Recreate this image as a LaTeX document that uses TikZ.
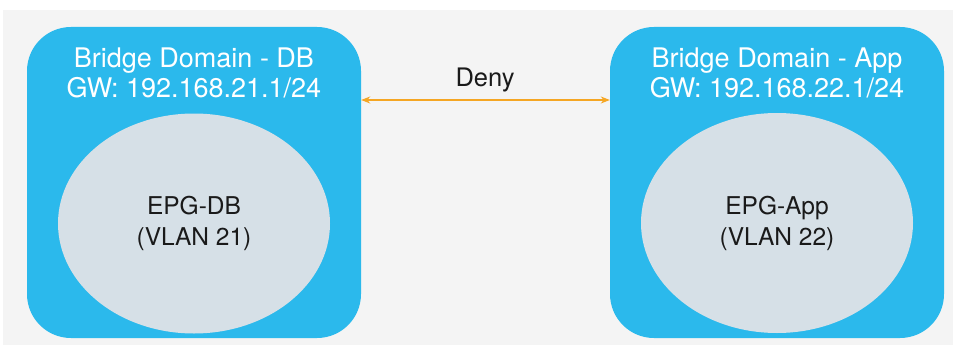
\documentclass[tikz,border=0pt]{standalone}
\usepackage{fontspec}
\setmainfont{TeX Gyre Heros}
\usetikzlibrary{shapes.geometric,arrows.meta}
\definecolor{bdblue}{HTML}{2BB9EC}
\definecolor{epgfill}{HTML}{D6E0E7}
\definecolor{bggray}{HTML}{F4F4F4}
\definecolor{denyorange}{HTML}{F5A623}
\definecolor{txtdark}{HTML}{1A1A1A}
\begin{document}
\begin{tikzpicture}[x=1pt,y=-1pt,
  bdbox/.style={fill=bdblue,draw=none,rounded corners=44pt,minimum width=334pt,minimum height=311pt,inner sep=0pt},
  bdtitle/.style={text=white,font=\fontsize{27}{30}\selectfont,align=center},
  epg/.style={ellipse,fill=epgfill,draw=none,minimum width=272pt,minimum height=220pt,inner sep=0pt,text=txtdark,font=\fontsize{24.5}{31}\selectfont,align=center},
  denyarrow/.style={draw=denyorange,line width=1.3pt,{Stealth[length=9pt,width=7pt]}-{Stealth[length=9pt,width=7pt]}}]
\useasboundingbox (0,0) rectangle (953,345);
\fill[white] (0,0) rectangle (953,345);
\fill[bggray] (3,10) rectangle (953,345);
\node[bdbox] (bddb) at (194,182.5) {};
\node[bdbox] (bdapp) at (777,182.5) {};
\node[bdtitle] (tdb) at (194,73) {Bridge Domain - DB\\GW: 192.168.21.1/24};
\node[bdtitle] (tapp) at (777,73) {Bridge Domain - App\\GW: 192.168.22.1/24};
\node[epg] (epgdb) at (194,223.5) {EPG-DB\\(VLAN 21)};
\node[epg] (epgapp) at (777,223) {EPG-App\\(VLAN 22)};
\coordinate (al) at (bddb.east |- 0,100);
\coordinate (ar) at (bdapp.west |- 0,100);
\draw[denyarrow] (al) -- (ar);
\node[text=txtdark,font=\fontsize{25.5}{30}\selectfont] (deny) at (485,80) {Deny};
\end{tikzpicture}
\end{document}
